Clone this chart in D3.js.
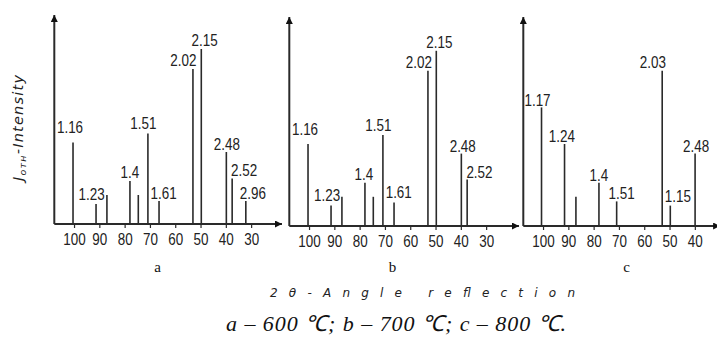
<!DOCTYPE html>
<html>
<head>
<meta charset="utf-8">
<script src="https://cdn.jsdelivr.net/npm/d3@7"></script>
<style>
  body { margin: 0; background: #fff; }
  svg { display: block; }
</style>
</head>
<body>
<div id="chart"></div>
<script>
// peak positions (2θ, deg), relative intensities and d-spacing labels, one set per temperature
const anglesA = [100.4, 91.3, 87.0, 77.9, 74.6, 70.8, 66.4, 53.0, 49.7, 39.8, 37.5, 32.1];
const intensA = [40.7, 10, 14.5, 21.5, 14.5, 45.3, 11.5, 77.5, 87.5, 36, 22.8, 11.5];
const labelsA = ['1.16', '1.23', '', '1.4', '', '1.51', '1.61', '2.02', '2.15', '2.48', '2.52', '2.96'];

const anglesB = [100.4, 91.3, 87.0, 77.9, 74.6, 70.8, 66.4, 53.0, 49.7, 39.8, 37.5];
const intensB = [41, 10.2, 14.6, 21.6, 14.6, 45.5, 11.8, 77.6, 87.6, 36.2, 23.3];
const labelsB = ['1.16', '1.23', '', '1.4', '', '1.51', '1.61', '2.02', '2.15', '2.48', '2.52'];

const anglesC = [100.6, 91.5, 87.0, 77.9, 70.9, 52.9, 49.7, 39.9];
const intensC = [59.3, 41, 14.6, 21.6, 12.3, 77.6, 10.2, 36.2];
const labelsC = ['1.17', '1.24', '', '1.4', '1.51', '2.03', '1.15', '2.48'];

const ticksAB = [100, 90, 80, 70, 60, 50, 40, 30];
const ticksC = [100, 90, 80, 70, 60, 50, 40];
const panelNames = ['a', 'b', 'c'];

// label nudges in px: [dx from line, gap above line top]
const nudgeA = [[-3, 10], [-4.5, 4], [0, 0], [0, 2.7], [0, 0], [-4.5, 4], [4.5, 2], [-9.5, 3], [3.3, 3.5], [0.5, 2.5], [12, 2], [7, 2.5]];
const nudgeB = [[-3, 9], [-4, 5], [0, 0], [-1, 2.7], [0, 0], [-4.6, 4.3], [4.7, 4], [-9, 2.4], [3, 2.4], [1.4, 2], [12.3, 1.5]];
const nudgeC = [[-4, 1.5], [-2.6, 2.3], [0, 0], [0, 2], [5, 2], [-9.3, 2.4], [7.5, 3.4], [1, 2]];

const width = 717;
const height = 340;
const ink = '#2a2a2a';
const numFont = '"Liberation Sans", Arial, sans-serif';

const svg = d3.select('#chart').append('svg')
  .attr('width', width)
  .attr('height', height);

const defs = svg.append('defs');
defs.append('marker')
  .attr('id', 'arrow')
  .attr('viewBox', '0 0 10 10')
  .attr('refX', 10)
  .attr('refY', 5)
  .attr('markerUnits', 'userSpaceOnUse')
  .attr('markerWidth', 9)
  .attr('markerHeight', 7)
  .attr('orient', 'auto')
  .append('path')
  .attr('d', 'M0,0L10,5L0,10Z')
  .attr('fill', '#111');

const panels = [
  { left: 54.3, baseline: 224, end: 17.8, angles: anglesA, intens: intensA, labels: labelsA, nudge: nudgeA, ticks: ticksAB },
  { left: 289.3, baseline: 226, end: 17.0, angles: anglesB, intens: intensB, labels: labelsB, nudge: nudgeB, ticks: ticksAB },
  { left: 523.3, baseline: 226, end: 30, angles: anglesC, intens: intensC, labels: labelsC, nudge: nudgeC, ticks: ticksC }
];

const startAngle = 107.8;
const pxPerDeg = 2.53;

panels.forEach((p, i) => {
  const x = d3.scaleLinear()
    .domain([startAngle, p.end])
    .range([p.left, p.left + (startAngle - p.end) * pxPerDeg]);
  const y = d3.scaleLinear()
    .domain([0, 100])
    .range([p.baseline, p.baseline - 200]);

  const g = svg.append('g');

  // axes with arrows
  g.append('line')
    .attr('x1', x(startAngle)).attr('x2', x(startAngle))
    .attr('y1', y(0)).attr('y2', y(104.5))
    .attr('stroke', ink).attr('stroke-width', 2)
    .attr('marker-end', 'url(#arrow)');
  g.append('line')
    .attr('x1', x(startAngle)).attr('x2', x(p.end))
    .attr('y1', y(0)).attr('y2', y(0))
    .attr('stroke', ink).attr('stroke-width', 2)
    .attr('marker-end', 'url(#arrow)');

  const ax = g.append('g')
    .attr('transform', `translate(0,${y(0)})`)
    .call(d3.axisBottom(x).tickValues(p.ticks).tickSize(4).tickSizeOuter(0).tickPadding(6));
  ax.select('.domain').remove();
  ax.attr('font-size', 16).attr('font-family', numFont);
  ax.selectAll('line').attr('stroke', ink).attr('stroke-width', 1.2);
  ax.selectAll('text').attr('fill', '#222').attr('transform', 'scale(0.84,1)');

  // peaks
  g.selectAll('.peak')
    .data(p.angles)
    .join('line')
    .attr('class', 'peak')
    .attr('x1', d => x(d)).attr('x2', d => x(d))
    .attr('y1', y(0))
    .attr('y2', (d, j) => y(p.intens[j]))
    .attr('stroke', ink)
    .attr('stroke-width', 1.6);

  g.selectAll('.plabel')
    .data(p.angles.map((a, j) => ({ a, v: p.intens[j], t: p.labels[j], n: p.nudge[j] })).filter(d => d.t))
    .join('text')
    .attr('class', 'plabel')
    .attr('transform', d => `translate(${x(d.a) + d.n[0]},${y(d.v) - d.n[1]}) scale(0.84,1)`)
    .attr('text-anchor', 'middle')
    .attr('font-family', numFont)
    .attr('font-size', 16)
    .attr('fill', '#222')
    .text(d => d.t);

  g.append('text')
    .attr('x', x(67))
    .attr('y', 271.5)
    .attr('text-anchor', 'middle')
    .attr('font-family', '"Liberation Serif", "Times New Roman", serif')
    .attr('font-size', 15)
    .attr('fill', '#111')
    .text(panelNames[i]);
});

// y axis title
const yt = svg.append('text')
  .attr('transform', 'translate(23,128) rotate(-90)')
  .attr('text-anchor', 'middle')
  .attr('textLength', 106)
  .attr('lengthAdjust', 'spacing')
  .attr('font-family', '"DejaVu Sans", sans-serif')
  .attr('font-style', 'italic')
  .attr('font-size', 14.5)
  .attr('fill', '#222');
yt.append('tspan').text('J');
yt.append('tspan').attr('font-size', 9.5).attr('dy', 3).text('отн');
yt.append('tspan').attr('dy', -3).text('-Intensity');

// x axis title
svg.append('text')
  .attr('x', 270)
  .attr('y', 297)
  .attr('textLength', 305)
  .attr('lengthAdjust', 'spacing')
  .attr('font-family', '"DejaVu Sans", sans-serif')
  .attr('font-style', 'italic')
  .attr('font-size', 12)
  .attr('fill', '#222')
  .text('2θ-Angle reflection');

// caption
svg.append('text')
  .attr('x', 226)
  .attr('y', 331)
  .attr('textLength', 340)
  .attr('lengthAdjust', 'spacing')
  .attr('font-family', '"Liberation Serif", "Times New Roman", serif')
  .attr('font-style', 'italic')
  .attr('font-size', 22)
  .attr('fill', '#111')
  .text('a –  600 ℃; b – 700 ℃; c – 800 ℃.');
</script>
</body>
</html>
